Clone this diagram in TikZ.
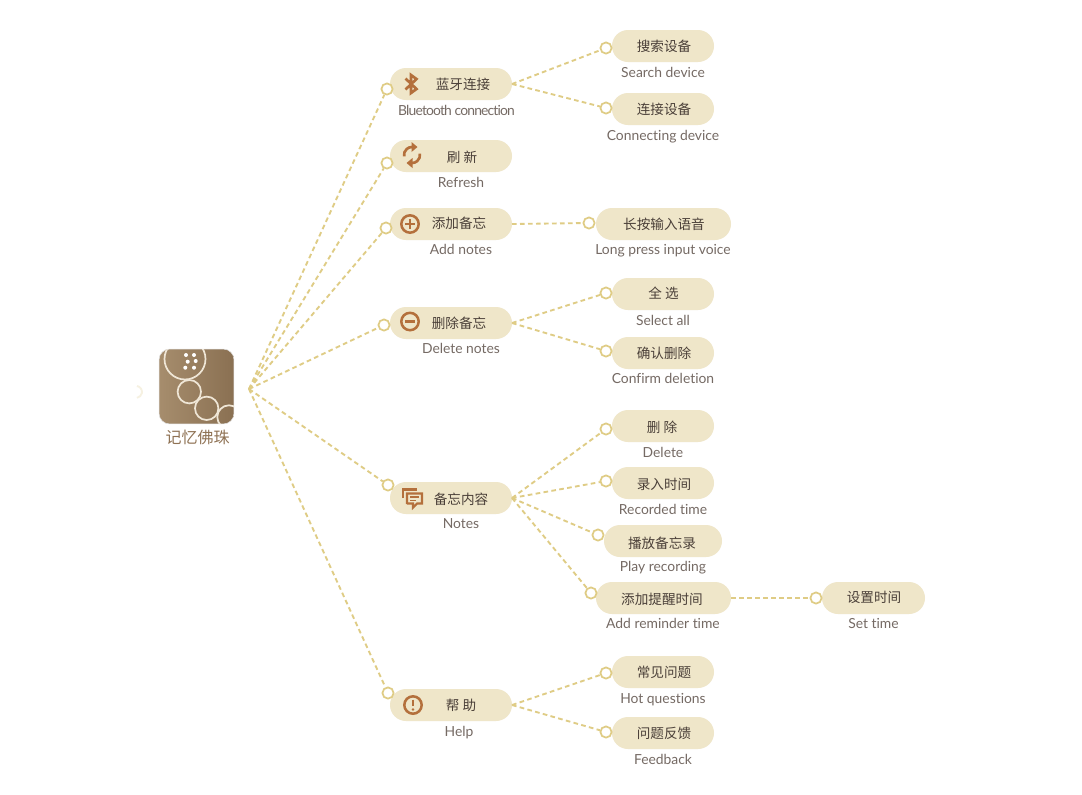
\documentclass[tikz,border=0pt]{standalone}
\usepackage{fontspec}
\setmainfont[Ligatures=NoCommon]{Lato}
\newfontfamily\cjk{Noto Sans CJK SC}
\usetikzlibrary{shapes.misc}
\definecolor{pillc}{HTML}{EFE6C9}
\definecolor{linec}{HTML}{DFCC85}
\definecolor{iconc}{HTML}{B4703C}
\definecolor{zhc}{HTML}{4A3F38}
\definecolor{enc}{HTML}{756A64}
\definecolor{rootl}{HTML}{A68D6D}
\definecolor{rootr}{HTML}{8A7052}
\definecolor{rootz}{HTML}{8F7254}
\definecolor{beadc}{HTML}{EFE6D6}
\tikzset{
  x=0.75pt,y=-0.75pt,
  pill/.style={rounded rectangle,fill=pillc,minimum height=24pt,inner sep=0pt,outer sep=0pt},
  ring/.style={circle,draw=linec,line width=1.3pt,fill=white,minimum size=8.4pt,inner sep=0pt,outer sep=0.5pt},
  zh/.style={font=\cjk\fontsize{10.2pt}{12pt}\selectfont,text=zhc,inner sep=0pt},
  en/.style={font=\fontsize{10.4pt}{12pt}\selectfont,text=enc,inner sep=0pt,text height=8pt,text depth=1pt},
  link/.style={draw=linec,line width=1.4pt,dash pattern=on 3.5pt off 2.5pt},
  ic/.style={draw=iconc,line width=1.5pt,fill=none},
  bead/.style={draw=beadc,line width=1.3pt},
}
% name, pill centre, pill width (pt), zh text, zh position, en text, en position, ring position
\newcommand{\mmitem}[8]{%
  \node[pill,minimum width=#3pt] (#1) at #2 {};
  \node[zh] (#1z) at #5 {#4};
  \node[en] (#1e) at #7 {#6};
  \node[ring] (#1r) at #8 {};
}
\begin{document}
\begin{tikzpicture}
\useasboundingbox (0,0) rectangle (1082,794);
\fill[white] (0,0) rectangle (1082,794);
% faint arc
\draw[pillc!55,line width=1.4pt] (137,386) arc (-80:80:6 and 6);
% root icon
\node[rectangle,rounded corners=8pt,minimum size=56.2pt,inner sep=0pt,left color=rootl,right color=rootr,draw=black!12,line width=0.4pt] (root) at (196.5,386.5) {};
\begin{scope}
\clip[rounded corners=8pt] (159,349) rectangle (234,424);
\draw[bead] (185,359) circle[radius=20.5];
\draw[bead] (189.3,391.7) circle[radius=11.7];
\draw[bead] (206.7,408.3) circle[radius=11.7];
\draw[bead] (229,417) circle[radius=11.7];
\foreach \p in {(186,355),(194,355),(187.7,361.7),(195.7,361),(185.3,367.7),(194,367.7)}
  \fill[white] \p circle[radius=2];
\end{scope}
\node[font=\cjk\fontsize{12pt}{14pt}\selectfont,text=rootz,inner sep=0pt] (rootlabel) at (197.5,437) {记忆佛珠};
\coordinate (hub) at (249,389);
% level 1
\mmitem{a}{(451,84)}{91.5}{蓝牙连接}{(463,84)}{\addfontfeature{LetterSpace=-6}Bluetooth connection}{(456.5,110.5)}{(387,89)}
\mmitem{b}{(451,156)}{91.5}{刷 新}{(462,157)}{Refresh}{(461,182.5)}{(387,163)}
\mmitem{c}{(451,224)}{91.5}{添加备忘}{(459,223)}{Add notes}{(461,249.5)}{(386,228)}
\mmitem{d}{(451,323)}{91.5}{删除备忘}{(459,323)}{Delete notes}{(461,348.5)}{(384,325)}
\mmitem{e}{(451,498)}{91.5}{备忘内容}{(461,499)}{Notes}{(461,523.5)}{(388,485)}
\mmitem{f}{(451,705)}{91.5}{帮 助}{(461,705)}{Help}{(459,731.5)}{(388,693)}
% level 2
\mmitem{a1}{(663,46)}{76.5}{搜索设备}{(664,46)}{Search device}{(663,72.5)}{(606,48)}
\mmitem{a2}{(663,109)}{76.5}{连接设备}{(664,109)}{Connecting device}{(663,135.5)}{(606,108)}
\mmitem{c1}{(663.5,224)}{101.25}{长按输入语音}{(664,224)}{Long press input voice}{(663,249.5)}{(589,223)}
\mmitem{d1}{(663,294)}{76.5}{全 选}{(663.5,293)}{Select all}{(663,320.5)}{(606,293)}
\mmitem{d2}{(663,353)}{76.5}{确认删除}{(664,353)}{Confirm deletion}{(663,378.5)}{(606,351)}
\mmitem{e1}{(663,426)}{76.5}{删 除}{(662,427)}{Delete}{(663,452.5)}{(606,429)}
\mmitem{e2}{(663,483)}{76.5}{录入时间}{(664,484)}{Recorded time}{(663,509.5)}{(606,481)}
\mmitem{e3}{(663,541)}{88.5}{播放备忘录}{(662,543)}{Play recording}{(663,566.5)}{(598,535)}
\mmitem{e4}{(663.5,598)}{101.25}{添加提醒时间}{(662,599)}{Add reminder time}{(663,623.5)}{(591,593)}
\mmitem{e5}{(873.5,598)}{77.25}{设置时间}{(874,597.5)}{Set time}{(873.5,623.5)}{(816,598)}
\mmitem{f1}{(663,672)}{76.5}{常见问题}{(664,672)}{Hot questions}{(663,698.5)}{(606,673)}
\mmitem{f2}{(663,733)}{76.5}{问题反馈}{(664,733)}{Feedback}{(663,759.5)}{(606,732)}
% connectors
\foreach \t in {a,b,c,d,e,f} \draw[link] (hub) -- (\t r);
\foreach \s/\t in {a/a1,a/a2,c/c1,d/d1,d/d2,e/e1,e/e2,e/e3,e/e4,f/f1,f/f2} \draw[link] (\s.east) -- (\t r);
\draw[link] (e4.east) -- (e5r);
% icons
\draw[ic,line width=2pt,line join=miter] (405.5,78.5) -- (416.5,89) -- (411,93) -- (411,75) -- (416.5,79) -- (405.5,89.5);
\draw[ic,line width=2pt] (404.1,156.4) arc (170:270:8);
\fill[iconc] (417.5,147) -- (411.5,142) -- (411.5,152) -- cycle;
\draw[ic,line width=2pt] (419.9,153.6) arc (-10:90:8);
\fill[iconc] (406.5,163) -- (412.5,158) -- (412.5,168) -- cycle;
\draw[ic,line width=1.9pt] (410,224) circle[radius=8.7];
\draw[ic,line width=1.9pt] (405,224) -- (415,224) (410,219) -- (410,229);
\draw[ic,line width=1.9pt] (410,321.5) circle[radius=8.7];
\draw[ic,line width=1.9pt] (405,321.5) -- (415,321.5);
\draw[ic,line width=1.7pt] (403,498) -- (403,489.5) -- (417,489.5);
\draw[ic,line width=1.6pt] (407,504) -- (407,493.5) -- (422,493.5) -- (422,503.5) -- (417,503.5) -- (413,507.5) -- (413,503.5) -- (407,503.5);
\draw[ic,line width=1pt] (410,497) -- (419,497) (410,500.5) -- (416,500.5);
\draw[ic,line width=1.9pt] (413,705) circle[radius=8.7];
\draw[iconc,line width=2pt] (413,699.5) -- (413,706);
\fill[iconc] (413,709.5) circle[radius=1.4];
\end{tikzpicture}
\end{document}
